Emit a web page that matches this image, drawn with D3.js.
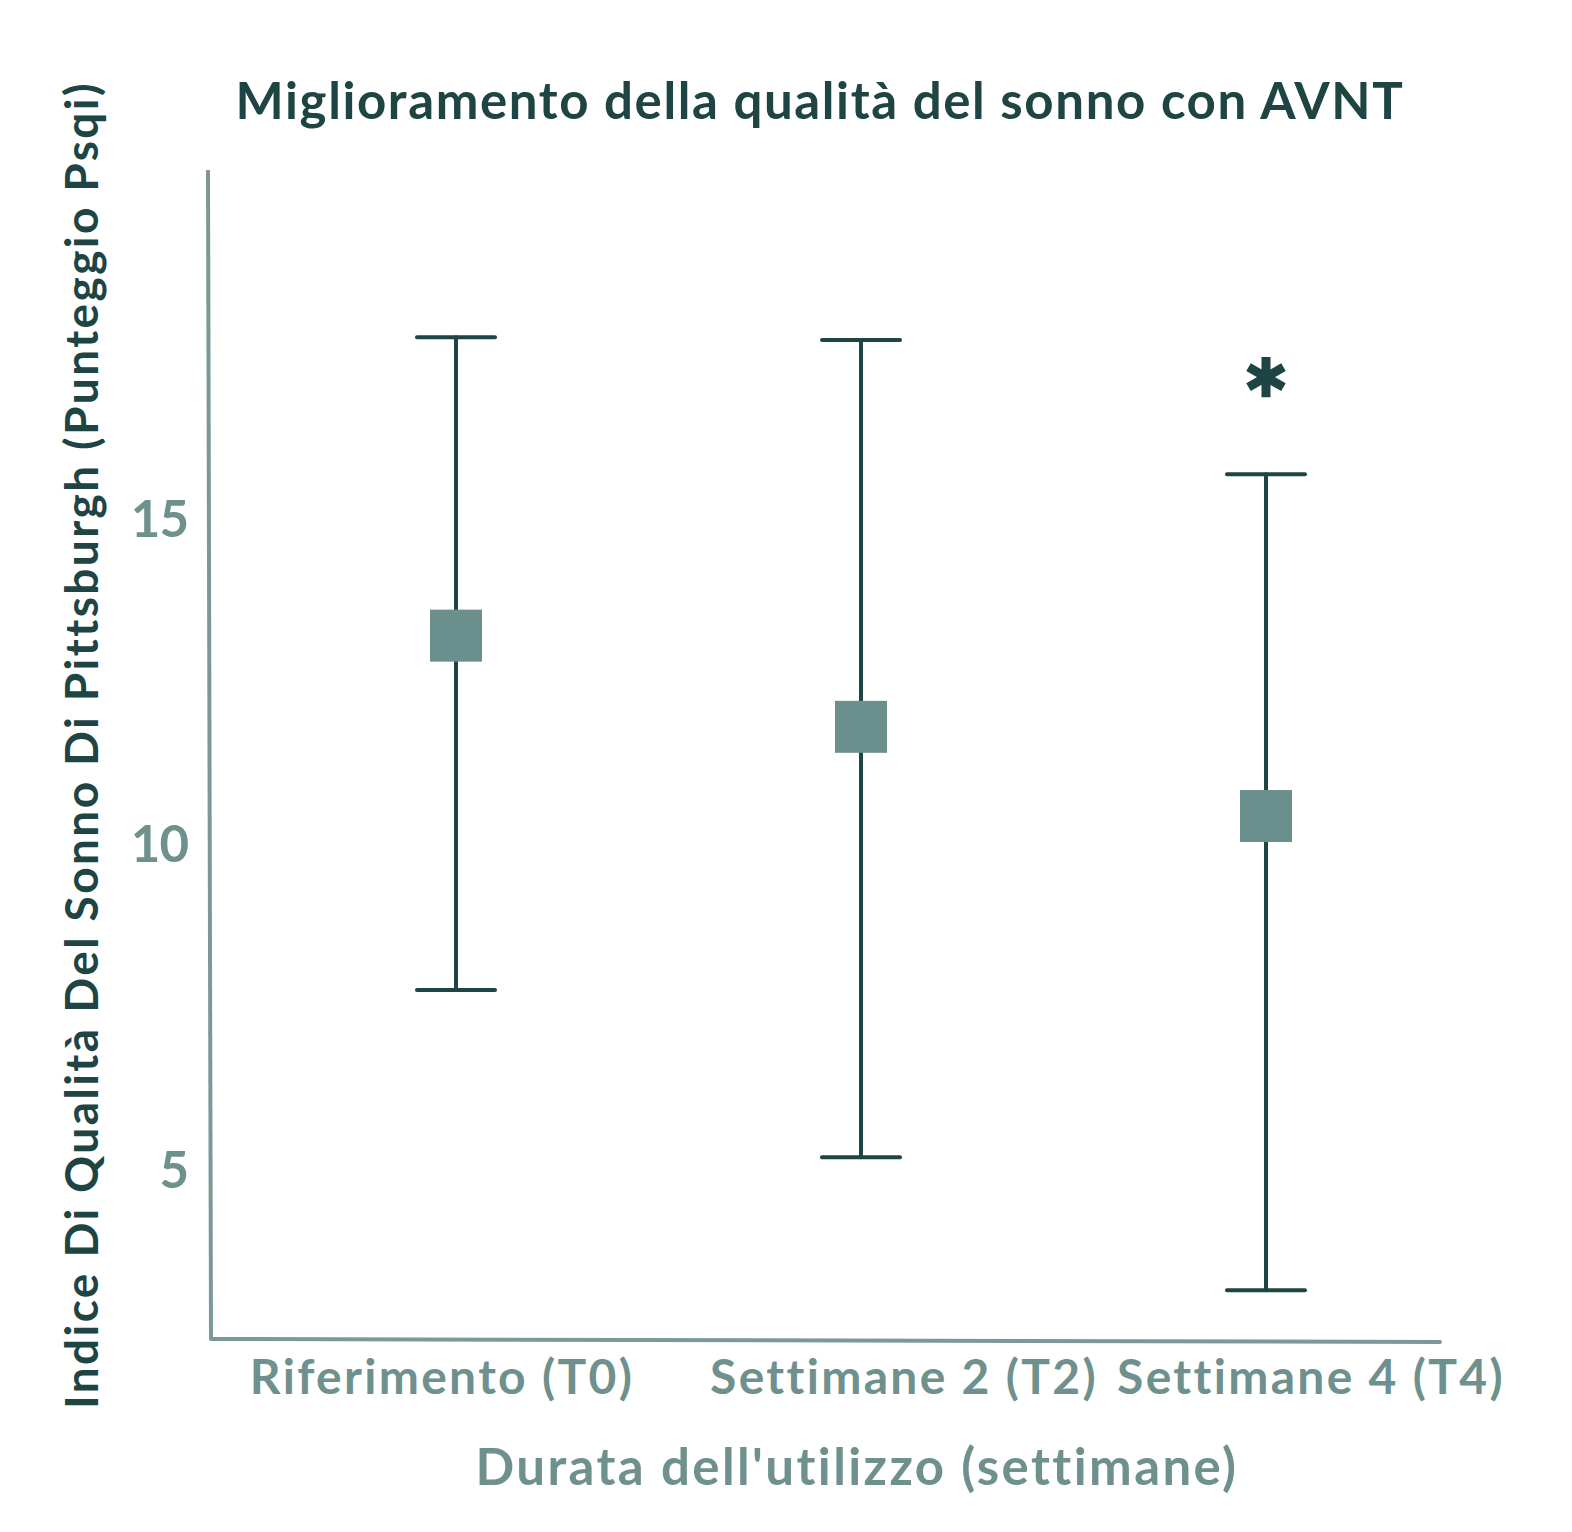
<!DOCTYPE html>
<html>
<head>
<meta charset="utf-8">
<script src="https://cdn.jsdelivr.net/npm/d3@7"></script>
<style>
  body { margin: 0; background: #fff; }
  svg text { font-family: Lato, "Open Sans", sans-serif; font-variant-ligatures: none; }
</style>
</head>
<body>
<svg id="chart" width="1572" height="1532"></svg>
<script>
// data
const categories = ["Riferimento (T0)", "Settimane 2 (T2)", "Settimane 4 (T4)"];
const means = [13.2, 11.8, 10.43];
const upper = [17.78, 17.74, 15.68];
const lower = [7.76, 5.19, 3.15];
const significant = [false, false, true];
const yTicks = [5, 10, 15];

const dark = "#1e4443";
const grey = "#6f918e";

const svg = d3.select("#chart");

const x = d3.scalePoint().domain(categories).range([456, 1266]);
const y = d3.scaleLinear().domain([2.4, 20.35]).range([1339, 170]);

const rows = categories.map((c, i) => ({
  cat: c, mean: means[i], hi: upper[i], lo: lower[i], sig: significant[i]
}));

// title
svg.append("text")
  .attr("x", 820).attr("y", 119)
  .attr("text-anchor", "middle")
  .attr("font-size", 51).attr("font-weight", 700)
  .attr("letter-spacing", 1.6)
  .attr("fill", dark)
  .text("Miglioramento della qualità del sonno con AVNT");

// axes lines
svg.append("line")
  .attr("x1", 208).attr("y1", 170).attr("x2", 211).attr("y2", 1339)
  .attr("stroke", "#7a9996").attr("stroke-width", 4);
svg.append("line")
  .attr("x1", 211).attr("y1", 1339).attr("x2", 1440).attr("y2", 1342)
  .attr("stroke", "#7a9996").attr("stroke-width", 4).attr("stroke-linecap", "round");

// y tick labels
svg.selectAll(".ytick")
  .data(yTicks)
  .join("text")
  .attr("class", "ytick")
  .attr("x", 188)
  .attr("y", d => y(d))
  .attr("dy", "0.36em")
  .attr("text-anchor", "end")
  .attr("font-size", 51).attr("font-weight", 700)
  .attr("fill", grey)
  .attr("letter-spacing", -1)
  .text(d => d);

// x tick labels (slightly off-center like the original)
const labelShift = [-14, 43, 45];
svg.selectAll(".xtick")
  .data(rows)
  .join("text")
  .attr("class", "xtick")
  .attr("x", (d, i) => x(d.cat) + labelShift[i])
  .attr("y", 1394)
  .attr("text-anchor", "middle")
  .attr("font-size", 48).attr("font-weight", 700)
  .attr("letter-spacing", 2.3)
  .attr("fill", grey)
  .text(d => d.cat);

// axis titles
svg.append("text")
  .attr("x", 857).attr("y", 1485)
  .attr("text-anchor", "middle")
  .attr("font-size", 51).attr("font-weight", 700)
  .attr("letter-spacing", 2.4)
  .attr("fill", grey)
  .text("Durata dell'utilizzo (settimane)");

svg.append("text")
  .attr("transform", "translate(98,745) rotate(-90)")
  .attr("text-anchor", "middle")
  .attr("font-size", 46).attr("font-weight", 700)
  .attr("letter-spacing", 2.4)
  .attr("fill", dark)
  .text("Indice Di Qualità Del Sonno Di Pittsburgh (Punteggio Psqi)");

// error bars
const bars = svg.append("g")
  .attr("stroke", dark).attr("stroke-width", 4).attr("stroke-linecap", "round");

bars.selectAll(".stem")
  .data(rows)
  .join("line")
  .attr("x1", d => x(d.cat)).attr("x2", d => x(d.cat))
  .attr("y1", d => y(d.hi)).attr("y2", d => y(d.lo));

bars.selectAll(".capHi")
  .data(rows)
  .join("line")
  .attr("x1", d => x(d.cat) - 39).attr("x2", d => x(d.cat) + 39)
  .attr("y1", d => y(d.hi)).attr("y2", d => y(d.hi));

bars.selectAll(".capLo")
  .data(rows)
  .join("line")
  .attr("x1", d => x(d.cat) - 39).attr("x2", d => x(d.cat) + 39)
  .attr("y1", d => y(d.lo)).attr("y2", d => y(d.lo));

// mean squares
const sq = 52;
svg.selectAll(".mean")
  .data(rows)
  .join("rect")
  .attr("class", "mean")
  .attr("x", d => x(d.cat) - sq / 2)
  .attr("y", d => y(d.mean) - sq / 2)
  .attr("width", sq).attr("height", sq)
  .attr("fill", "#6b8f8c");

// significance asterisk
svg.selectAll(".star")
  .data(rows.filter(d => d.sig))
  .join("path")
  .attr("class", "star")
  .attr("transform", d => `translate(${x(d.cat)},${y(d.hi) - 97})`)
  .attr("d", d3.symbol(d3.symbolAsterisk, 1150))
  .attr("fill", "none")
  .attr("stroke", dark)
  .attr("stroke-width", 9);
</script>
</body>
</html>
